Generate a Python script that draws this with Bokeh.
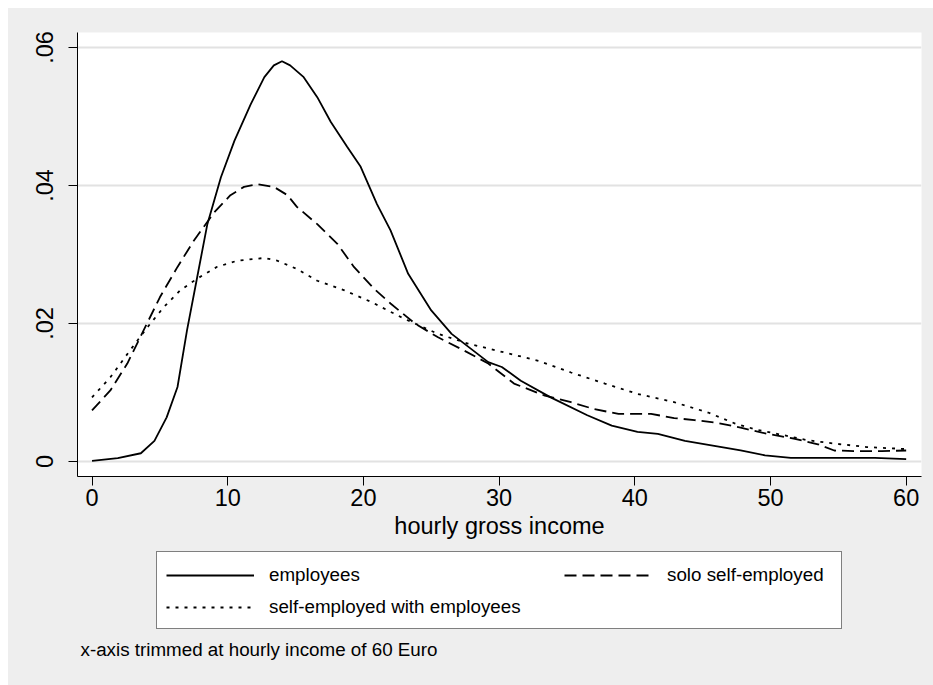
from bokeh.plotting import figure
from bokeh.layouts import column
from bokeh.models import Legend, LegendItem, Label, Range1d, FixedTicker
from bokeh.embed import file_html
from bokeh.resources import INLINE

# hourly gross income (Euro) and kernel density
x_emp = [0, 1.9, 3.6, 4.6, 5.5, 6.3, 7.0, 7.75, 8.5, 9.5, 10.5, 11.7, 12.7, 13.4,
         14.0, 14.6, 15.6, 16.6, 17.6, 18.8, 19.8, 21.0, 22.0, 23.3, 25.0, 26.5,
         29.2, 30.2, 31.6, 33.8, 36.5, 38.3, 40.2, 41.7, 43.7, 46.4, 47.8, 49.6,
         51.5, 55.2, 57.7, 60]
y_emp = [0.0001, 0.0005, 0.0012, 0.003, 0.0064, 0.0108, 0.019, 0.0267, 0.0344,
         0.0412, 0.0465, 0.0518, 0.0557, 0.0574, 0.058, 0.0574, 0.0557, 0.0528,
         0.0492, 0.0456, 0.0427, 0.0373, 0.0335, 0.0272, 0.0219, 0.0185, 0.0144,
         0.0137, 0.0117, 0.0093, 0.0067, 0.0052, 0.0043, 0.004, 0.003, 0.0021,
         0.0016, 0.0009, 0.00053, 0.00053, 0.00053, 0.00034]

x_solo = [0, 1.35, 2.6, 3.8, 5.0, 6.3, 7.5, 9.0, 10.2, 11.2, 12.2, 13.4, 14.4,
          15.1, 16.6, 18.1, 19.3, 20.8, 22.0, 23.8, 25.5, 27.4, 29.2, 31.1, 33.3,
          35.3, 37.0, 38.8, 41.2, 42.9, 44.4, 46.1, 47.8, 49.8, 51.8, 53.5, 54.7,
          56.4, 58.2, 60]
y_solo = [0.0074, 0.0103, 0.0142, 0.019, 0.0238, 0.0282, 0.032, 0.0361, 0.0386,
          0.0398, 0.0402, 0.0398, 0.0386, 0.0369, 0.0344, 0.0315, 0.0282, 0.025,
          0.0229, 0.02, 0.018, 0.0161, 0.0142, 0.0113, 0.0096, 0.0086, 0.0076,
          0.0069, 0.0069, 0.0063, 0.006, 0.0056, 0.0049, 0.004, 0.0033, 0.0025,
          0.0016, 0.0015, 0.0015, 0.0016]

x_with = [0, 1.35, 2.8, 4.1, 5.3, 6.5, 7.75, 9.2, 10.7, 12.7, 13.65, 15.1, 16.6,
          18.6, 20.6, 23.0, 25.5, 27.7, 30.4, 32.9, 35.3, 37.8, 40.2, 42.9, 45.4,
          47.4, 49.0, 51.0, 52.7, 54.7, 57.1, 60]
y_with = [0.0093, 0.0122, 0.0161, 0.0195, 0.0224, 0.0248, 0.0265, 0.0282, 0.0291,
          0.0295, 0.0291, 0.0279, 0.0262, 0.0248, 0.0231, 0.0207, 0.0185, 0.0171,
          0.0158, 0.0146, 0.0129, 0.0113, 0.0098, 0.0086, 0.0071, 0.0055, 0.0046,
          0.0038, 0.0031, 0.0026, 0.0021, 0.0018]

x_ticks = [0, 10, 20, 30, 40, 50, 60]
y_ticks = [0, 0.02, 0.04, 0.06]
y_tick_labels = ["0", ".02", ".04", ".06"]
series_labels = ["employees", "solo self-employed", "self-employed with employees"]
x_title = "hourly gross income"
note = "x-axis trimmed at hourly income of 60 Euro"

FONT = "Liberation Sans"
BG = "#eeeeee"
STYLES = [dict(line_color="black", line_width=1.8),
          dict(line_color="black", line_width=1.8, line_dash="12 6"),
          dict(line_color="black", line_width=1.8, line_dash="3 6")]
SERIES_X = [x_emp, x_solo, x_with]
SERIES_Y = [y_emp, y_solo, y_with]

# ---- main chart ----
p = figure(width=925, height=542, output_backend="svg", toolbar_location=None,
           x_range=Range1d(-1.07, 61.13), y_range=Range1d(-0.00217, 0.06217),
           min_border_left=69, min_border_right=12, min_border_top=24,
           min_border_bottom=74)
p.background_fill_color = "white"
p.border_fill_color = BG
p.outline_line_color = None

for xs, ys, st in zip(SERIES_X, SERIES_Y, STYLES):
    p.line(xs, ys, **st)

p.xgrid.visible = False
p.ygrid.grid_line_color = "#e2e2e2"
p.ygrid.grid_line_width = 2
p.ygrid.ticker = FixedTicker(ticks=y_ticks)

for ax in (p.xaxis[0], p.yaxis[0]):
    ax.axis_line_color = "black"
    ax.axis_line_width = 1
    ax.major_tick_line_color = "black"
    ax.major_tick_out = 9
    ax.major_tick_in = 0
    ax.minor_tick_line_color = None
    ax.major_label_text_font = FONT
    ax.major_label_text_font_size = "23.5px"
    ax.major_label_text_color = "black"

p.xaxis.ticker = FixedTicker(ticks=x_ticks)
p.xaxis.major_label_standoff = 3
p.xaxis.axis_label = x_title
p.xaxis.axis_label_text_font = FONT
p.xaxis.axis_label_text_font_size = "23.5px"
p.xaxis.axis_label_text_font_style = "normal"
p.xaxis.axis_label_text_color = "black"
p.xaxis.axis_label_standoff = 4

p.yaxis.ticker = FixedTicker(ticks=y_ticks)
p.yaxis.major_label_overrides = {t: l for t, l in zip(y_ticks, y_tick_labels)}
p.yaxis.major_label_orientation = "vertical"
p.yaxis.major_label_standoff = 15

# ---- legend and note strip (transparent; the column behind it is grey) ----
q = figure(width=925, height=135, output_backend="svg", toolbar_location=None,
           x_range=Range1d(100, 101), y_range=Range1d(100, 101), min_border=0,
           x_axis_type=None, y_axis_type=None)
q.background_fill_color = None
q.border_fill_color = None
q.outline_line_color = None
q.xgrid.visible = False
q.ygrid.visible = False

# same series, outside this strip's ranges: only their legend samples show
legend_renderers = [q.line(xs, ys, **st) for xs, ys, st in zip(SERIES_X, SERIES_Y, STYLES)]
r_box = q.line([], [], line_alpha=0)

box = Legend(items=[LegendItem(label=" ", renderers=[r_box])],
             location=(79, 56), padding=0, margin=0, spacing=0,
             glyph_width=664, glyph_height=76, label_width=20, label_height=20,
             label_standoff=0, border_line_color="black", border_line_width=1.3,
             background_fill_color="white", background_fill_alpha=1,
             label_text_font_size="10px")
q.add_layout(box, "center")

legend = Legend(
    items=[LegendItem(label=lab, renderers=[r])
           for lab, r in zip(series_labels, legend_renderers)],
    orientation="horizontal", ncols=2, location=(89, 67),
    border_line_color=None, background_fill_alpha=0,
    label_text_font=FONT, label_text_font_size="18.8px", label_text_color="black",
    glyph_width=88, glyph_height=22, label_height=22, label_width=285,
    label_standoff=15, spacing=10, padding=0, margin=0)
q.add_layout(legend, "center")

q.add_layout(Label(x=3, y=36, x_units="screen", y_units="screen", text=note,
                   text_font=FONT, text_font_size="18.8px", text_color="black",
                   text_baseline="middle"))

layout = column(p, q, spacing=0, margin=(8, 0, 0, 8),
                styles={"background-color": BG})
open("out.html", "w").write(file_html(layout, INLINE))
